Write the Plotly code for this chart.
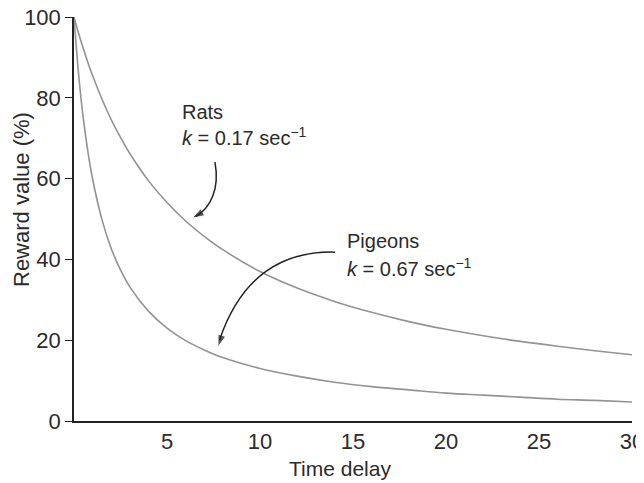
import plotly.graph_objects as go

# Data
delay = [0, 0.25, 0.5, 0.75, 1, 1.5, 2, 2.5, 3, 4, 5, 6, 7, 8, 10, 12, 14, 16, 18, 20, 22, 24, 26, 28, 30]
rats = [100, 95.9, 92.2, 88.7, 85.5, 79.7, 74.6, 70.2, 66.2, 59.5, 54.1, 49.5, 45.7, 42.4, 37.0,
        32.9, 29.6, 26.9, 24.6, 22.7, 21.1, 19.7, 18.5, 17.4, 16.4]
pigeons = [100, 85.7, 74.9, 66.6, 59.9, 49.9, 42.7, 37.4, 33.2, 27.2, 23.0, 19.9, 17.6, 15.7, 13.0,
           11.1, 9.6, 8.5, 7.7, 6.9, 6.4, 5.9, 5.4, 5.1, 4.7]
x_ticks = [5, 10, 15, 20, 25, 30]
y_ticks = [0, 20, 40, 60, 80, 100]

FONT = "Liberation Sans, Arial, sans-serif"
CURVE = "#939393"
TXT = "#2b2b2b"

fig = go.Figure()
fig.add_trace(go.Scatter(x=delay, y=rats, mode="lines", line=dict(color=CURVE, width=1.6, shape="spline"),
                         cliponaxis=False, hoverinfo="skip"))
fig.add_trace(go.Scatter(x=delay, y=pigeons, mode="lines", line=dict(color=CURVE, width=1.6, shape="spline"),
                         cliponaxis=False, hoverinfo="skip"))

# curved arrows (annotation decorations)
fig.add_shape(type="path", xref="x", yref="y",
              path="M 7.58,64.1 C 7.85,57.2 7.31,52.7 6.55,50.6",
              line=dict(color="#222", width=1.5))
fig.add_shape(type="path", xref="x", yref="y",
              path="M 14.03,41.8 Q 9.46,42.3 7.82,20.0",
              line=dict(color="#222", width=1.5))
# arrowheads
fig.add_trace(go.Scatter(x=[7.31, 6.34], y=[52.7, 50.2], mode="markers", hoverinfo="skip", cliponaxis=False,
                         marker=dict(symbol="arrow", size=[0, 13], angleref="previous", color="#111")))
fig.add_trace(go.Scatter(x=[9.46, 7.74], y=[42.3, 18.3], mode="markers", hoverinfo="skip", cliponaxis=False,
                         marker=dict(symbol="arrow", size=[0, 13], angleref="previous", color="#111")))

# labels
def lab(x, y, t):
    fig.add_annotation(x=x, y=y, text=t, showarrow=False, xanchor="left", yanchor="middle",
                       font=dict(family=FONT, size=20, color=TXT))

lab(5.70, 76.5, "Rats")
lab(5.70, 70.3, "<i>k</i> = 0.17 sec<sup>−1</sup>")
lab(14.57, 44.6, "Pigeons")
lab(14.57, 37.9, "<i>k</i> = 0.67 sec<sup>−1</sup>")

# axis titles
fig.add_annotation(xref="paper", yref="paper", x=(340 - 74) / 558, y=(421 - 468) / 404, text="Time delay",
                   showarrow=False, xanchor="center", yanchor="middle",
                   font=dict(family=FONT, size=21, color=TXT))
fig.add_annotation(xref="paper", yref="paper", x=(22 - 74) / 558, y=(421 - 200) / 404, text="Reward value (%)",
                   showarrow=False, xanchor="center", yanchor="middle", textangle=-90,
                   font=dict(family=FONT, size=22, color=TXT))

fig.update_xaxes(range=[0, 30], tickvals=x_ticks, showline=True, linecolor="#222", linewidth=1.5,
                 ticks="", showgrid=False, zeroline=False, automargin=False, ticklabeloverflow="allow",
                 tickfont=dict(family=FONT, size=22, color=TXT))
fig.update_yaxes(range=[0, 100], tickvals=y_ticks, showline=True, linecolor="#222", linewidth=1.5,
                 ticks="outside", ticklen=7, tickcolor="#222", tickwidth=1.3, showgrid=False, zeroline=False,
                 automargin=False, ticklabeloverflow="allow", tickfont=dict(family=FONT, size=22, color=TXT))

# page body adds an 8px offset, so the figure is 8px smaller than the window
fig.update_layout(width=636, height=475, margin=dict(l=66, r=12, t=9, b=62),
                  plot_bgcolor="white", paper_bgcolor="white", showlegend=False)

fig.write_html("out.html")
